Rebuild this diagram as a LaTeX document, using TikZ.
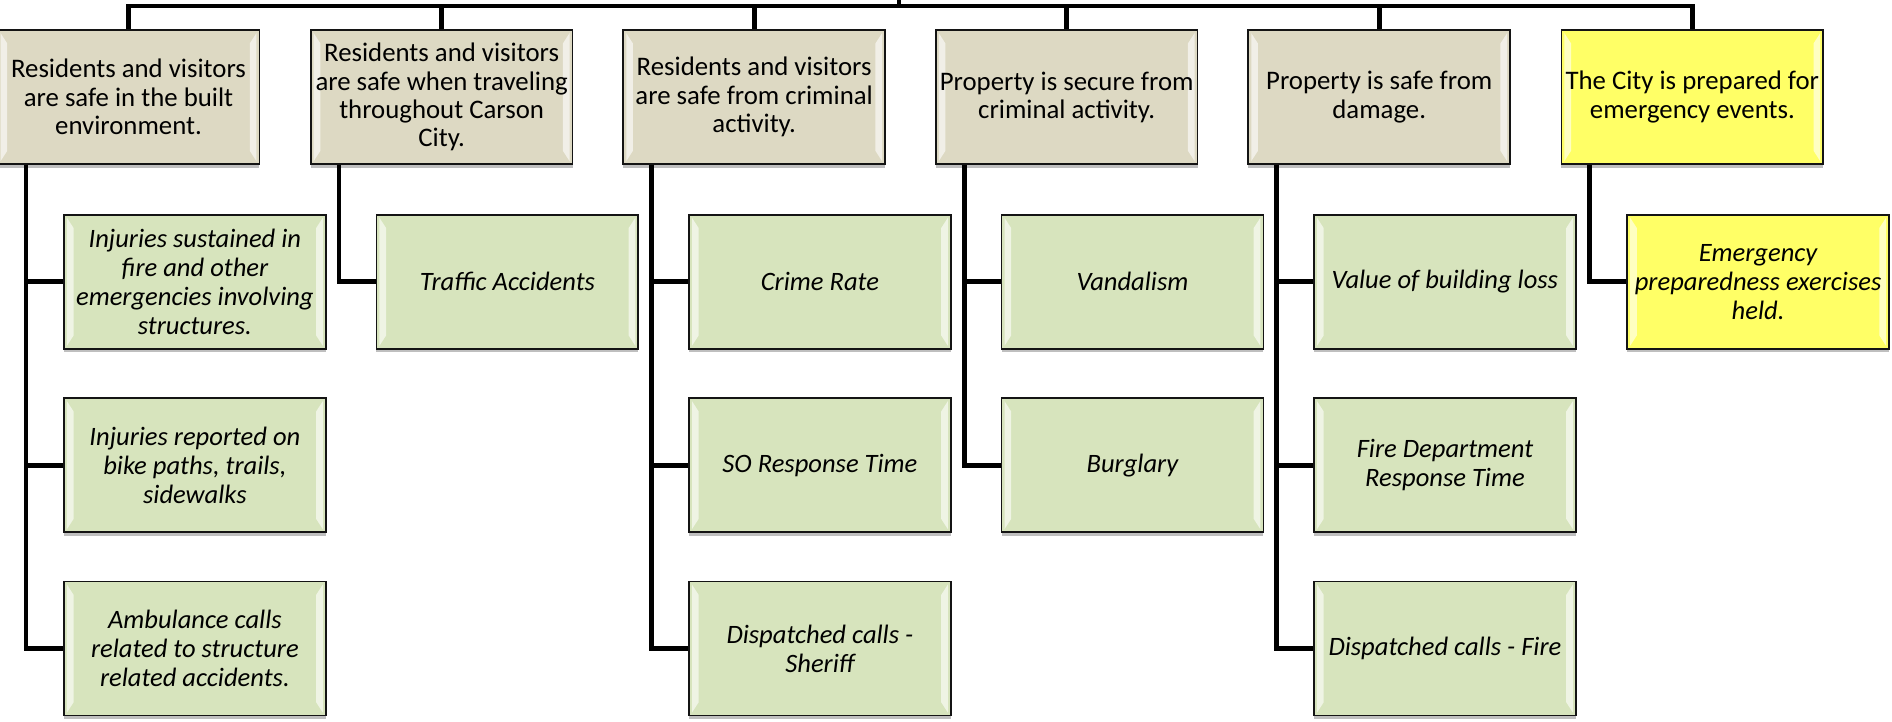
\documentclass[tikz,border=0pt]{standalone}
\usepackage{fontspec}
\setmainfont{Carlito}
\usetikzlibrary{shadows}
\definecolor{goalfill}{RGB}{221,217,195}
\definecolor{measfill}{RGB}{215,228,189}
\definecolor{prepfill}{RGB}{255,255,102}
\definecolor{edgecol}{RGB}{20,20,20}
\tikzset{
  bevel/.style={path picture={
    \fill[white,opacity=0.6]
      ([xshift=2.5pt,yshift=-2.5pt]path picture bounding box.north west) --
      ([xshift=8pt,yshift=-11pt]path picture bounding box.north west) --
      ([xshift=8pt,yshift=11pt]path picture bounding box.south west) --
      ([xshift=2.5pt,yshift=2.5pt]path picture bounding box.south west) -- cycle;
    \fill[white,opacity=0.6]
      ([xshift=-2.5pt,yshift=-2.5pt]path picture bounding box.north east) --
      ([xshift=-8pt,yshift=-11pt]path picture bounding box.north east) --
      ([xshift=-8pt,yshift=11pt]path picture bounding box.south east) --
      ([xshift=-2.5pt,yshift=2.5pt]path picture bounding box.south east) -- cycle;
  }},
  box/.style={draw=edgecol, line width=1.4pt, minimum width=217pt, minimum height=111pt,
    inner sep=0pt, align=center, bevel,
    drop shadow={shadow xshift=0pt, shadow yshift=-3pt, opacity=0.25, fill=black}},
  goal/.style={box, fill=goalfill, font=\fontsize{22.2}{23.5}\selectfont},
  prep/.style={goal, fill=prepfill},
  meas/.style={box, fill=measfill, font=\fontsize{22}{24}\selectfont\itshape},
  measprep/.style={meas, fill=prepfill},
  conn/.style={line width=4pt, line join=miter, draw=black}
}
\begin{document}
\begin{tikzpicture}[x=1pt,y=-1pt]
\useasboundingbox (0,0) rectangle (1568,598);
% parents
\node[goal] (p1) at (106.5,80.5) {Residents and visitors\\are safe in the built\\environment.};
\node[goal] (p2) at (366,80.5) {Residents and visitors\\are safe when traveling\\throughout Carson\\City.};
\node[goal] (p3) at (625,80.5) {Residents and visitors\\are safe from criminal\\activity.};
\node[goal] (p4) at (884,80.5) {Property is secure from\\criminal activity.};
\node[goal] (p5) at (1143,80.5) {Property is safe from\\damage.};
\node[prep] (p6) at (1402.5,80.5) {The City is prepared for\\emergency events.};
% children
\node[meas] (c1a) at (161.5,233.5) {Injuries sustained in\\fire and other\\emergencies involving\\structures.};
\node[meas] (c1b) at (161.5,385.5) {Injuries reported on\\bike paths, trails,\\sidewalks};
\node[meas] (c1c) at (161.5,537.5) {Ambulance calls\\related to structure\\related accidents.};
\node[meas] (c2a) at (420.5,233.5) {Traffic Accidents};
\node[meas] (c3a) at (679.5,233.5) {Crime Rate};
\node[meas] (c3b) at (679.5,385.5) {SO Response Time};
\node[meas] (c3c) at (679.5,537.5) {Dispatched calls -\\Sheriff};
\node[meas] (c4a) at (938.5,233.5) {Vandalism};
\node[meas] (c4b) at (938.5,385.5) {Burglary};
\node[meas] (c5a) at (1197.5,233.5) {Value of building loss};
\node[meas] (c5b) at (1197.5,385.5) {Fire Department\\Response Time};
\node[meas] (c5c) at (1197.5,537.5) {Dispatched calls - Fire};
\node[measprep] (c6a) at (1457,233.5) {Emergency\\preparedness exercises\\held.};
% top bus
\coordinate (root) at (745,-3);
\coordinate (bus) at (745,5);
\draw[conn] (root) -- (bus);
\foreach \p in {p1,p2,p3,p4,p5,p6} {
  \draw[conn] (bus) -| (\p.north);
}
% child connectors
\foreach \p/\c in {p1/c1a,p1/c1b,p1/c1c,p2/c2a,p3/c3a,p3/c3b,p3/c3c,p4/c4a,p4/c4b,p5/c5a,p5/c5b,p5/c5c,p6/c6a} {
  \draw[conn] ([xshift=-85pt]\p.south) |- (\c.west);
}
\end{tikzpicture}
\end{document}
